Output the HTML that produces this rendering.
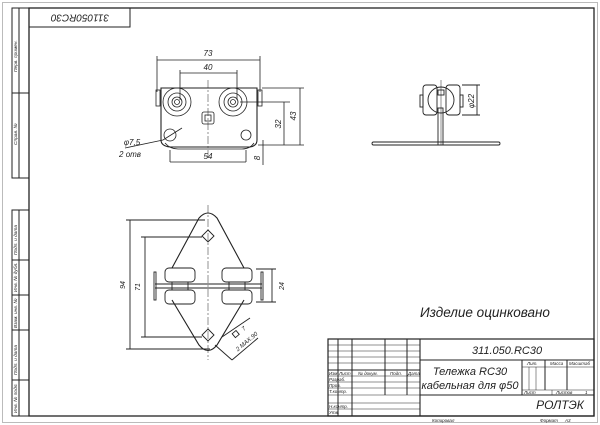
<!DOCTYPE html>
<html><head><meta charset="utf-8"><style>
html,body{margin:0;padding:0;background:#fff}
svg{display:block}
text{font-family:"Liberation Sans","DejaVu Sans",sans-serif;font-style:italic;fill:#222}
</style></head><body>
<svg width="600" height="425" viewBox="0 0 600 425" xmlns="http://www.w3.org/2000/svg">
<rect x="2.5" y="2.5" width="595" height="420" fill="none" stroke="#bbb" stroke-width="1"/>
<g stroke="#222" fill="none" stroke-width="1">
<rect x="29" y="8" width="565" height="408" stroke-width="1.3"/>
<rect x="12" y="8" width="17" height="170"/>
<line x1="19" y1="8" x2="19" y2="178"/>
<line x1="12" y1="93" x2="29" y2="93"/>
<rect x="12" y="210" width="17" height="206"/>
<line x1="19" y1="210" x2="19" y2="416"/>
<line x1="12" y1="260" x2="29" y2="260"/>
<line x1="12" y1="295" x2="29" y2="295"/>
<line x1="12" y1="330" x2="29" y2="330"/>
<line x1="12" y1="380" x2="29" y2="380"/>
<rect x="29" y="8" width="101" height="19"/>
</g>
<g font-size="4.8">
<text transform="translate(17,72) rotate(-90)">Перв. примен.</text>
<text transform="translate(17,145) rotate(-90)">Справ. №</text>
<text transform="translate(17,255) rotate(-90)">Подп. и дата</text>
<text transform="translate(17,292) rotate(-90)">Инв. № дубл.</text>
<text transform="translate(17,328) rotate(-90)">Взам. инв. №</text>
<text transform="translate(17,375) rotate(-90)">Подп. и дата</text>
<text transform="translate(17,413) rotate(-90)">Инв. № подл.</text>
</g>
<text transform="translate(80,17) rotate(180)" font-size="10" text-anchor="middle" dominant-baseline="middle">311050RC30</text>

<g stroke="#222" fill="none" stroke-width="0.8">
<line x1="157" y1="60" x2="260" y2="60"/><line x1="157" y1="56" x2="157" y2="92"/><line x1="260" y1="56" x2="260" y2="92"/>
<line x1="180" y1="73" x2="237" y2="73"/><line x1="180" y1="70" x2="180" y2="100"/><line x1="237" y1="70" x2="237" y2="100"/>
<path d="M161 88 H257 V140 Q257 146 250 147 H170 Q161 146 161 140 Z" stroke-width="1.1"/>
<path d="M165 143 Q170 149 178 149 H242 Q250 149 254 143" />
<rect x="156" y="90" width="4" height="16"/><rect x="258" y="90" width="4" height="16"/>
<circle cx="177" cy="102" r="14"/><circle cx="177" cy="102" r="9"/><circle cx="177" cy="102" r="5"/><circle cx="177" cy="102" r="2.5"/>
<circle cx="233" cy="102" r="14"/><circle cx="233" cy="102" r="9"/><circle cx="233" cy="102" r="5"/><circle cx="233" cy="102" r="2.5"/>
<rect x="202" y="112" width="12" height="12" rx="2"/><rect x="205" y="115" width="6" height="6"/>
<circle cx="170" cy="135" r="6"/><circle cx="246" cy="135" r="5"/>
<line x1="208" y1="80" x2="208" y2="160" stroke-dasharray="8 2 2 2" stroke-width="0.5"/>
<line x1="170" y1="150" x2="170" y2="162"/><line x1="246" y1="150" x2="246" y2="162"/>
<line x1="170" y1="162" x2="246" y2="162"/>
<line x1="262" y1="88" x2="304" y2="88"/><line x1="240" y1="102" x2="290" y2="102"/><line x1="258" y1="145" x2="304" y2="145"/>
<line x1="300" y1="88" x2="300" y2="145"/><line x1="284" y1="102" x2="284" y2="145"/>
<line x1="263" y1="140" x2="263" y2="165"/>
<line x1="125" y1="148" x2="163" y2="140"/><line x1="163" y1="140" x2="182" y2="128"/>
</g>
<g font-size="8" text-anchor="middle">
<text x="208" y="56">73</text><text x="208" y="70">40</text><text x="208" y="159">54</text>
<text transform="translate(296,116) rotate(-90)">43</text>
<text transform="translate(281,124) rotate(-90)">32</text>
<text transform="translate(260,158) rotate(-90)">8</text>
<text x="132" y="145">φ7,5</text><text x="130" y="157">2 отв</text>
</g>

<g stroke="#222" fill="none" stroke-width="0.9">
<rect x="423" y="85" width="14" height="30" rx="3"/><rect x="446" y="85" width="14" height="30" rx="3"/>
<rect x="420" y="95" width="3" height="12"/><rect x="460" y="95" width="3" height="12"/>
<circle cx="441" cy="100" r="13"/>
<rect x="438" y="90" width="6" height="5"/>
<rect x="438" y="108" width="5" height="37"/>
<line x1="441" y1="80" x2="441" y2="145" stroke-width="0.5"/>
<rect x="372" y="142" width="128" height="3" rx="1.5"/>
<line x1="462" y1="85" x2="480" y2="85"/><line x1="462" y1="115" x2="480" y2="115"/><line x1="477" y1="85" x2="477" y2="115"/>
</g>
<text transform="translate(474,101) rotate(-90)" font-size="8" text-anchor="middle">φ22</text>

<g stroke="#222" fill="none" stroke-width="0.9">
<path d="M199 218 Q208 208 217 218 L244 268 M244 300 L217 345 Q208 356 199 345 L172 300 M172 268 L199 218" stroke-width="1.1"/>
<path d="M208 230 L214 236 L208 242 L202 236 Z"/><path d="M208 329 L214 335 L208 341 L202 335 Z"/>
<rect x="165" y="268" width="30" height="14" rx="4"/><rect x="222" y="268" width="30" height="14" rx="4"/>
<rect x="165" y="290" width="30" height="14" rx="4"/><rect x="222" y="290" width="30" height="14" rx="4"/>
<rect x="172" y="282" width="16" height="8"/><rect x="229" y="282" width="16" height="8"/>
<line x1="155" y1="284" x2="262" y2="284"/><line x1="155" y1="288" x2="262" y2="288"/>
<rect x="154" y="272" width="2" height="28"/><rect x="261" y="272" width="2" height="28"/>
<line x1="208" y1="205" x2="208" y2="360" stroke-dasharray="8 2 2 2" stroke-width="0.5"/>
<line x1="126" y1="220" x2="205" y2="220"/><line x1="126" y1="349" x2="210" y2="349"/><line x1="130" y1="220" x2="130" y2="349"/>
<line x1="141" y1="237" x2="202" y2="237"/><line x1="141" y1="337" x2="202" y2="337"/><line x1="145" y1="237" x2="145" y2="337"/>
<line x1="256" y1="269" x2="276" y2="269"/><line x1="256" y1="302" x2="276" y2="302"/><line x1="272" y1="269" x2="272" y2="302"/>
<line x1="215" y1="345" x2="232" y2="360"/><line x1="222" y1="337" x2="250" y2="318"/><line x1="232" y1="360" x2="258" y2="338"/>
<rect x="233" y="332" width="5" height="5" transform="rotate(-40 235 334)"/>
</g>
<g font-size="7" text-anchor="middle">
<text transform="translate(125,285) rotate(-90)">94</text>
<text transform="translate(140,287) rotate(-90)">71</text>
<text transform="translate(284,286) rotate(-90)">24</text>
<text transform="translate(245,330) rotate(-40)" font-size="6">7</text>
<text transform="translate(248,343) rotate(-40)" font-size="6">2 MAX.90</text>
</g>

<text x="420" y="317" font-size="13.5">Изделие оцинковано</text>

<g stroke="#222" fill="none" stroke-width="0.5">
<rect x="328" y="339" width="266" height="77" stroke-width="1.2"/>
<line x1="420" y1="339" x2="420" y2="416" stroke-width="1.1"/>
<line x1="338" y1="339" x2="338" y2="416" stroke-width="1"/>
<line x1="352" y1="339" x2="352" y2="416" stroke-width="1"/>
<line x1="385" y1="339" x2="385" y2="395" stroke-width="1"/>
<line x1="407" y1="339" x2="407" y2="395" stroke-width="1"/>
<line x1="328" y1="345" x2="420" y2="345"/><line x1="328" y1="351" x2="420" y2="351"/>
<line x1="328" y1="357" x2="420" y2="357"/><line x1="328" y1="363" x2="420" y2="363"/>
<line x1="328" y1="370" x2="420" y2="370" stroke-width="1.1"/>
<line x1="328" y1="376" x2="420" y2="376"/><line x1="328" y1="382" x2="420" y2="382"/>
<line x1="328" y1="388" x2="420" y2="388"/><line x1="328" y1="395" x2="420" y2="395"/>
<line x1="328" y1="403" x2="420" y2="403"/><line x1="328" y1="409" x2="420" y2="409"/>
<line x1="420" y1="360" x2="594" y2="360" stroke-width="1.1"/>
<line x1="420" y1="395" x2="594" y2="395" stroke-width="1.1"/>
<line x1="522" y1="360" x2="522" y2="395" stroke-width="1"/>
<line x1="545" y1="360" x2="545" y2="390" stroke-width="1"/>
<line x1="567" y1="360" x2="567" y2="390" stroke-width="1"/>
<line x1="522" y1="367" x2="594" y2="367"/>
<line x1="522" y1="390" x2="594" y2="390"/>
<line x1="529" y1="367" x2="529" y2="390"/><line x1="536" y1="367" x2="536" y2="390"/>
<line x1="552" y1="390" x2="552" y2="395"/>
</g>
<g font-size="4.5">
<text x="329" y="375">Изм</text><text x="339" y="375">Лист</text><text x="358" y="375">№ докум.</text><text x="390" y="375">Подп.</text><text x="408" y="375">Дата</text>
<text x="329" y="381">Разраб.</text><text x="329" y="387">Пров.</text><text x="329" y="393">Т.контр.</text>
<text x="329" y="408">Н.контр.</text><text x="329" y="414">Утв.</text>
<text x="527" y="365">Лит.</text><text x="550" y="365">Масса</text><text x="569" y="365">Масштаб</text>
<text x="524" y="394">Лист</text><text x="556" y="394">Листов</text><text x="585" y="394">1</text>
<text x="432" y="422">Копировал</text><text x="540" y="422">Формат</text><text x="565" y="422">А3</text>
</g>
<text x="507" y="354" font-size="11" text-anchor="middle">311.050.RC30</text>
<text x="470" y="375" font-size="11" text-anchor="middle">Тележка RC30</text>
<text x="470" y="389" font-size="11" text-anchor="middle">кабельная для φ50</text>
<text x="560" y="409" font-size="12" text-anchor="middle">РОЛТЭК</text>
</svg>
</body></html>
